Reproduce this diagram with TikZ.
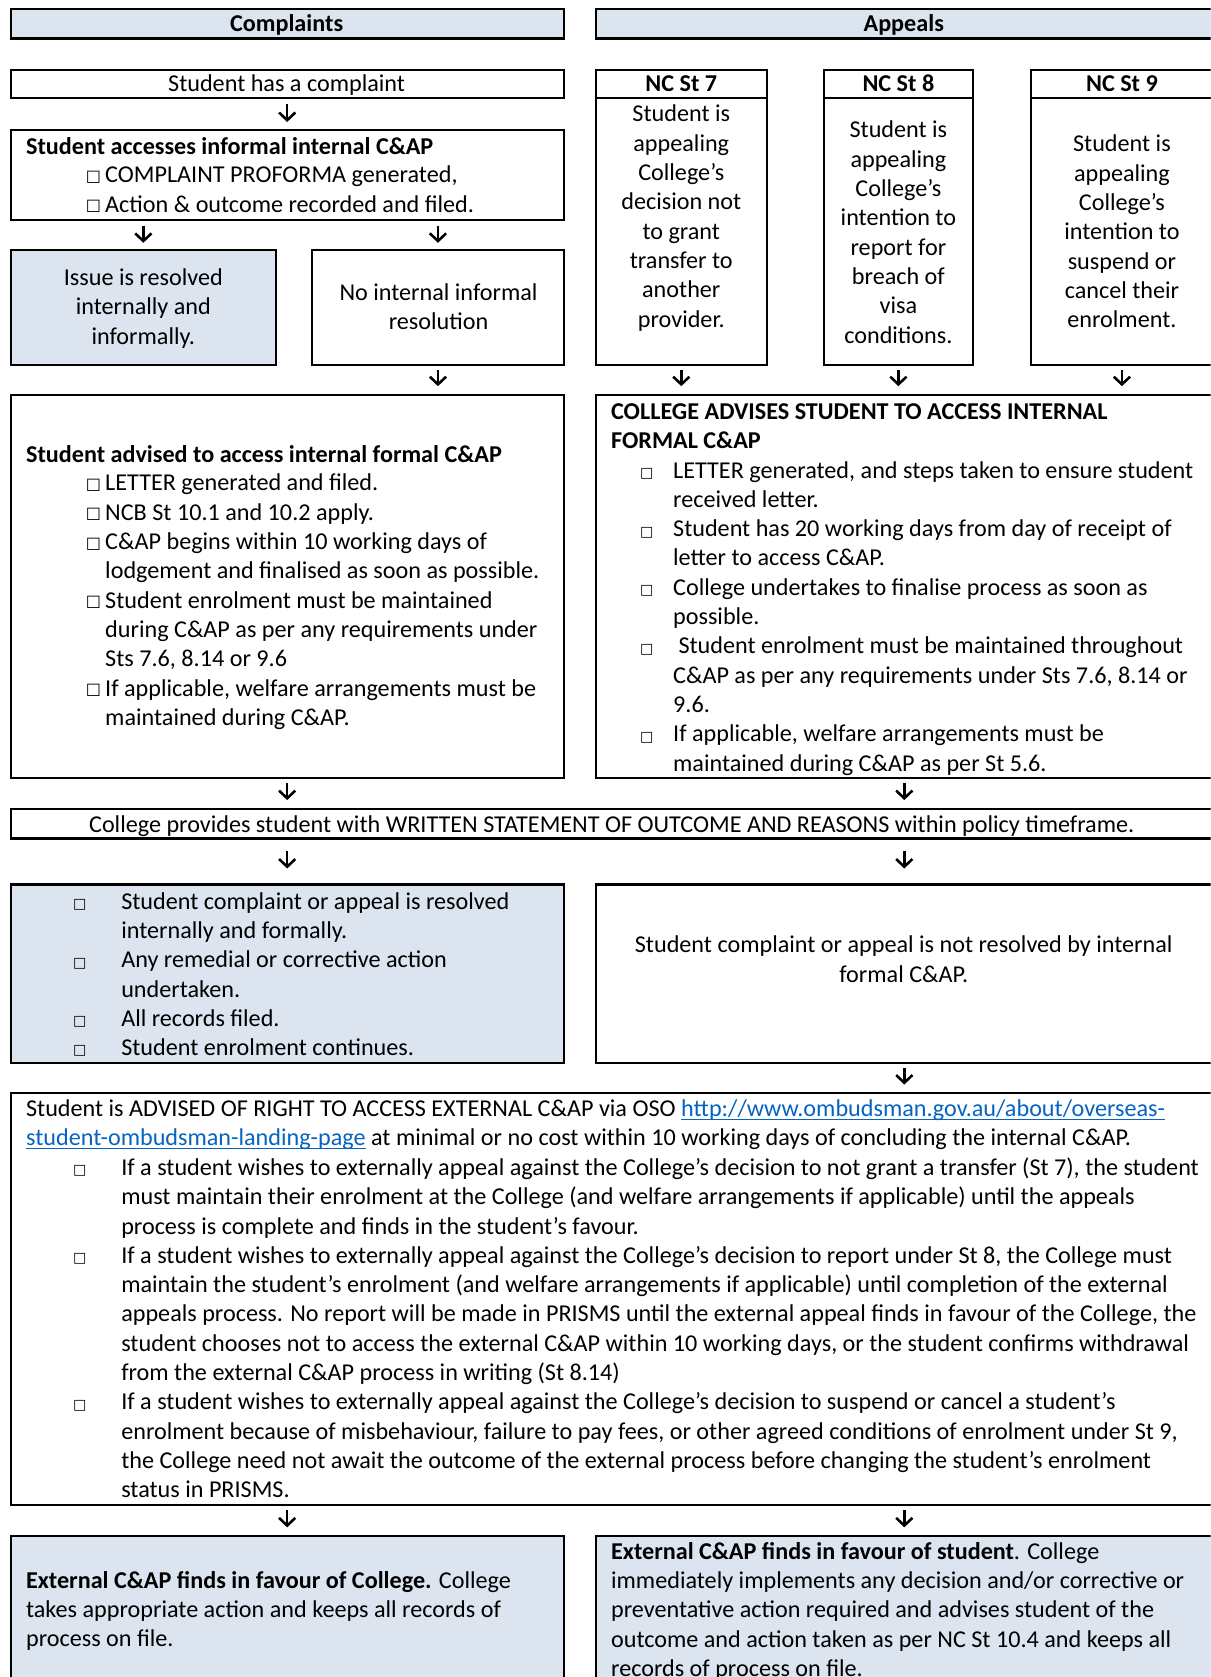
\documentclass[tikz,border=0pt]{standalone}
\usepackage{fontspec}
\setmainfont{Carlito}
\newfontfamily\symf{DejaVu Sans}
\usetikzlibrary{arrows.meta,fit}
\definecolor{boxblue}{RGB}{219,228,239}
\definecolor{linkblue}{RGB}{5,99,193}
\newcommand\fs{\fontsize{11.3pt}{13.7pt}\selectfont}
\newcommand\sqb{\raisebox{0.6pt}{\symf\fontsize{7.5pt}{7.5pt}\selectfont □}}
\newcommand\sqs{\raisebox{0.3pt}{\symf\fontsize{6.6pt}{6.6pt}\selectfont □}}
\newcommand\bi[1]{\makebox[#1][l]{\sqb}}
\newcommand\bs[1]{\makebox[#1][l]{\sqs}}
\newcommand\lnk[1]{\textcolor{linkblue}{\setbox0\hbox{#1}\rlap{\rule[-1.6pt]{\wd0}{0.55pt}}\box0}}
\tikzset{
 box/.style={draw, line width=0.95pt, inner sep=0pt, rectangle},
 fbox/.style={box, fill=boxblue},
 txt/.style={inner sep=0pt, anchor=base west, align=flush left, font=\fs},
 ctxt/.style={inner sep=0pt, anchor=base, align=flush center, font=\fs},
 arr/.style={line width=1.2pt, -{Straight Barb[length=3.6pt,width=7.6pt]}}
}
\begin{document}
\begin{tikzpicture}[x=0.5pt,y=-0.5pt]
\useasboundingbox (0,0) rectangle (1132,1568);
\clip (0,0) rectangle (1132,1568);
% ---------- boxes ----------
\node[fbox, fit={(10,8) (527,36)}] (hC) {};
\node[fbox, fit={(557,8) (1134,36)}] (hA) {};
\node[box, fit={(10,65) (527,92)}] (has) {};
\node[box, fit={(10,122) (527,206)}] (inf) {};
\node[fbox, fit={(10,234) (258,341)}] (iss) {};
\node[box, fit={(292,234) (527,341)}] (noi) {};
\node[box, fit={(557,65) (717,92)}] (n7h) {};
\node[box, fit={(557,92) (717,341)}] (n7) {};
\node[box, fit={(770,65) (910,92)}] (n8h) {};
\node[box, fit={(770,92) (910,341)}] (n8) {};
\node[box, fit={(964,65) (1134,92)}] (n9h) {};
\node[box, fit={(964,92) (1134,341)}] (n9) {};
\node[box, fit={(10,369) (527,727)}] (adv) {};
\node[box, fit={(557,369) (1134,727)}] (col) {};
\node[box, fit={(10,756) (1134,784)}] (wri) {};
\node[fbox, fit={(10,827) (527,994)}] (res) {};
\node[box, fit={(557,827) (1134,994)}] (nres) {};
\node[box, fit={(10,1022) (1134,1407)}] (oso) {};
\node[fbox, fit={(10,1436) (527,1600)}] (fcol) {};
\node[fbox, fit={(557,1436) (1134,1600)}] (fstu) {};
% ---------- texts ----------
\node[ctxt, text width=250pt, font=\fs\bfseries] (tC) at (268,29) {Complaints};
\node[ctxt, text width=250pt, font=\fs\bfseries] (tA) at (845,29) {Appeals};
\node[ctxt, text width=250pt] (thas) at (268,86) {Student has a complaint};
\node[txt, text width=245pt, font=\fs\bfseries] (tinf1) at (24,144) {Student accesses informal internal C\&AP};
\node[txt, text width=220pt] (tinf2) at (80,171) {\bi{9pt}COMPLAINT PROFORMA generated,\\\bi{9pt}Action \& outcome recorded and filed.};
\node[ctxt, text width=115pt] (tiss) at (134,267) {Issue is resolved\\internally and\\informally.};
\node[ctxt, text width=112pt] (tnoi) at (410,281) {No internal informal\\resolution};
\node[ctxt, text width=75pt, font=\fs\bfseries] (t7h) at (637,86) {NC St 7};
\node[ctxt, text width=75pt] (t7) at (637,114) {Student is\\appealing\\College’s\\decision not\\to grant\\transfer to\\another\\provider.};
\node[ctxt, text width=65pt, font=\fs\bfseries] (t8h) at (840,86) {NC St 8};
\node[ctxt, text width=65pt] (t8) at (840,129) {Student is\\appealing\\College’s\\intention to\\report for\\breach of\\visa\\conditions.};
\node[ctxt, text width=80pt, font=\fs\bfseries] (t9h) at (1049,86) {NC St 9};
\node[ctxt, text width=80pt] (t9) at (1049,142) {Student is\\appealing\\College’s\\intention to\\suspend or\\cancel their\\enrolment.};
\node[txt, text width=245pt, font=\fs\bfseries] (tadv1) at (24,432) {Student advised to access internal formal C\&AP};
\node[txt, text width=225pt] (tadv2) at (80,459) {\bi{9pt}LETTER generated and filed.\\
\bi{9pt}NCB St 10.1 and 10.2 apply.\\
\bi{9pt}C\&AP begins within 10 working days of\\
\hspace*{9pt}lodgement and finalised as soon as possible.\\
\bi{9pt}Student enrolment must be maintained\\
\hspace*{9pt}during C\&AP as per any requirements under\\
\hspace*{9pt}Sts 7.6, 8.14 or 9.6\\
\bi{9pt}If applicable, welfare arrangements must be\\
\hspace*{9pt}maintained during C\&AP.};
\node[txt, text width=275pt, font=\fs\bfseries] (tcol1) at (571,392) {COLLEGE ADVISES STUDENT TO ACCESS INTERNAL\\FORMAL C\&AP};
\node[txt, text width=275pt] (tcol2) at (598,447) {\bs{15.5pt}LETTER generated, and steps taken to ensure student\\
\hspace*{15.5pt}received letter.\\
\bs{15.5pt}Student has 20 working days from day of receipt of\\
\hspace*{15.5pt}letter to access C\&AP.\\
\bs{15.5pt}College undertakes to finalise process as soon as\\
\hspace*{15.5pt}possible.\\
\bs{15.5pt}\hspace*{2.5pt}Student enrolment must be maintained throughout\\
\hspace*{15.5pt}C\&AP as per any requirements under Sts 7.6, 8.14 or\\
\hspace*{15.5pt}9.6.\\
\bs{15.5pt}If applicable, welfare arrangements must be\\
\hspace*{15.5pt}maintained during C\&AP as per St 5.6.};
\node[ctxt, text width=555pt] (twri) at (572,778) {College provides student with WRITTEN STATEMENT OF OUTCOME AND REASONS within policy timeframe.};
\node[txt, text width=228pt] (tres) at (68,850) {\bs{22.5pt}Student complaint or appeal is resolved\\
\hspace*{22.5pt}internally and formally.\\
\bs{22.5pt}Any remedial or corrective action\\
\hspace*{22.5pt}undertaken.\\
\bs{22.5pt}All records filed.\\
\bs{22.5pt}Student enrolment continues.};
\node[ctxt, text width=280pt] (tnres) at (845,891) {Student complaint or appeal is not resolved by internal\\formal C\&AP.};
\node[txt, text width=552pt] (toso1) at (24,1044) {Student is ADVISED OF RIGHT TO ACCESS EXTERNAL C\&AP via OSO \lnk{http://www.ombudsman.gov.au/about/overseas-}\\
\lnk{student-ombudsman-landing-page} at minimal or no cost within 10 working days of concluding the internal C\&AP.};
\node[txt, text width=545pt] (toso2) at (68,1099) {\bs{22.5pt}If a student wishes to externally appeal against the College’s decision to not grant a transfer (St 7), the student\\
\hspace*{22.5pt}must maintain their enrolment at the College (and welfare arrangements if applicable) until the appeals\\
\hspace*{22.5pt}process is complete and finds in the student’s favour.\\
\bs{22.5pt}If a student wishes to externally appeal against the College’s decision to report under St 8, the College must\\
\hspace*{22.5pt}maintain the student’s enrolment (and welfare arrangements if applicable) until completion of the external\\
\hspace*{22.5pt}appeals process. No report will be made in PRISMS until the external appeal finds in favour of the College, the\\
\hspace*{22.5pt}student chooses not to access the external C\&AP within 10 working days, or the student confirms withdrawal\\
\hspace*{22.5pt}from the external C\&AP process in writing (St 8.14)\\
\bs{22.5pt}If a student wishes to externally appeal against the College’s decision to suspend or cancel a student’s\\
\hspace*{22.5pt}enrolment because of misbehaviour, failure to pay fees, or other agreed conditions of enrolment under St 9,\\
\hspace*{22.5pt}the College need not await the outcome of the external process before changing the student’s enrolment\\
\hspace*{22.5pt}status in PRISMS.};
\node[txt, text width=250pt] (tfcol) at (24,1485) {\textbf{External C\&AP finds in favour of College.} College\\
takes appropriate action and keeps all records of\\
process on file.};
\node[txt, text width=282pt] (tfstu) at (571,1458) {\textbf{External C\&AP finds in favour of student}. College\\
immediately implements any decision and/or corrective or\\
preventative action required and advises student of the\\
outcome and action taken as per NC St 10.4 and keeps all\\
records of process on file.};
% ---------- arrows ----------
\draw[arr] ([yshift=-2pt]has.south) -- ([yshift=3.5pt]inf.north);
\draw[arr] ([yshift=-2pt]inf.south -| iss.north) -- ([yshift=3pt]iss.north);
\draw[arr] ([yshift=-2pt]inf.south -| noi.north) -- ([yshift=3pt]noi.north);
\draw[arr] ([yshift=-2pt]noi.south) -- ([yshift=3.5pt]noi.south |- adv.north);
\draw[arr] ([yshift=-2pt]n7.south) -- ([yshift=3.5pt]n7.south |- col.north);
\draw[arr] ([yshift=-2pt]n8.south) -- ([yshift=3.5pt]n8.south |- col.north);
\draw[arr] ([yshift=-2pt]n9.south) -- ([yshift=3.5pt]n9.south |- col.north);
\draw[arr] ([yshift=-2pt]adv.south) -- ([yshift=3.5pt]adv.south |- wri.north);
\draw[arr] ([yshift=-2pt]col.south) -- ([yshift=3.5pt]col.south |- wri.north);
\draw[arr] ([yshift=-5.5pt]wri.south -| res.north) -- ([yshift=7pt]res.north);
\draw[arr] ([yshift=-5.5pt]wri.south -| nres.north) -- ([yshift=7pt]nres.north);
\draw[arr] ([yshift=-2pt]nres.south) -- ([yshift=3.5pt]nres.south |- oso.north);
\draw[arr] ([yshift=-2pt]oso.south -| fcol.north) -- ([yshift=3.5pt]fcol.north);
\draw[arr] ([yshift=-2pt]oso.south -| fstu.north) -- ([yshift=3.5pt]fstu.north);
\end{tikzpicture}
\end{document}
